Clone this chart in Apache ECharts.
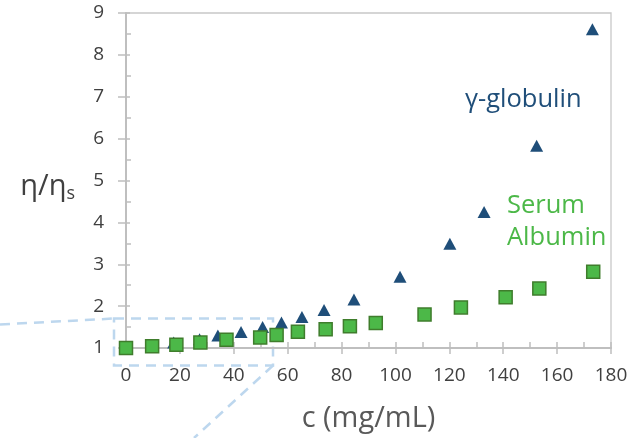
<!DOCTYPE html>
<html>
<head>
<meta charset="utf-8">
<script src="https://cdn.jsdelivr.net/npm/echarts@6/dist/echarts.min.js"></script>
<style>
html,body{margin:0;padding:0;background:#fff;}
#chart{width:642px;height:438px;}
</style>
</head>
<body>
<div id="chart"></div>
<script>
// gamma-globulin data (concentration mg/mL, relative viscosity)
var globulinC = [0, 9.7, 17.7, 27.3, 34.1, 42.7, 50.7, 57.7, 65.3, 73.5, 84.6, 101.7, 120.2, 132.9, 152.4, 173.1];
var globulinV = [1.0, 1.05, 1.13, 1.21, 1.30, 1.38, 1.50, 1.61, 1.74, 1.91, 2.16, 2.70, 3.49, 4.25, 5.83, 8.61];
// serum albumin data
var albuminC = [0, 9.7, 18.7, 27.6, 37.3, 49.8, 55.9, 63.8, 74.1, 83.1, 92.7, 110.8, 124.3, 140.9, 153.4, 173.4];
var albuminV = [1.0, 1.04, 1.08, 1.13, 1.20, 1.25, 1.31, 1.39, 1.45, 1.52, 1.60, 1.80, 1.97, 2.21, 2.42, 2.82];
// axis ticks
var xTicks = [0, 20, 40, 60, 80, 100, 120, 140, 160, 180];
var yTicks = [1, 2, 3, 4, 5, 6, 7, 8, 9];
var xTitle = 'c (mg/mL)';
var globulinName = 'γ-globulin';
var albuminName = ['Serum', 'Albumin'];

function pairs(a, b) { return a.map(function (v, i) { return [v, b[i]]; }); }

var FONT = '"Open Sans", "Noto Sans", sans-serif';
var AX = '#bfbfbf';
var TXT = '#404040';
var BLUE = '#1f4e79';
var GREEN = '#4cb848';
var DASH = '#bdd7ee';

var chart = echarts.init(document.getElementById('chart'), null, {renderer: 'canvas'});
var xMin = xTicks[0], xMax = xTicks[xTicks.length - 1], xInt = xTicks[1] - xTicks[0];
var yMin = yTicks[0], yMax = yTicks[yTicks.length - 1], yInt = yTicks[1] - yTicks[0];

chart.setOption({
  animation: false,
  textStyle: {fontFamily: FONT},
  grid: {left: 126, right: 31, top: 13, bottom: 87, show: true, borderColor: '#c8c8c8', borderWidth: 1.3, backgroundColor: 'transparent'},
  graphic: [
    {type: 'rect', z: 0, shape: {x: 114, y: 318.5, width: 159, height: 47}, style: {fill: 'none', stroke: DASH, lineWidth: 2.5, lineDash: [10, 7]}},
    {type: 'line', z: 0, shape: {x1: 0, y1: 324.5, x2: 114, y2: 318.5}, style: {stroke: DASH, lineWidth: 2.5, lineDash: [10, 7]}},
    {type: 'line', z: 0, shape: {x1: 273, y1: 365.5, x2: 194, y2: 438}, style: {stroke: DASH, lineWidth: 2.5, lineDash: [10, 7]}},
    {type: 'text', z: 5, left: 465, top: 87, style: {text: globulinName, fill: BLUE, font: '25.5px ' + FONT}},
    {type: 'text', z: 5, left: 507, top: 189, style: {text: albuminName.join('\n'), fill: GREEN, font: '25.5px ' + FONT, lineHeight: 32.5}}
  ],
  xAxis: [
    {type: 'value', min: xMin, max: xMax, interval: xInt, position: 'bottom',
     name: xTitle, nameLocation: 'middle', nameGap: 56,
     nameTextStyle: {color: '#595959', fontSize: 29, fontFamily: FONT},
     axisLine: {show: true, lineStyle: {color: AX, width: 2}},
     axisTick: {show: true, inside: false, length: 6, lineStyle: {color: AX, width: 1.5}},
     axisLabel: {color: TXT, fontSize: 19, margin: 18, fontFamily: FONT},
     splitLine: {show: false}},
    {type: 'value', min: xMin, max: xMax, interval: xInt, position: 'bottom',
     axisLine: {show: false},
     axisTick: {show: true, inside: true, length: 6, lineStyle: {color: AX, width: 1.5}},
     minorTick: {show: true, splitNumber: 2, length: 6, lineStyle: {color: AX, width: 1.5}},
     axisLabel: {show: false}, splitLine: {show: false}}
  ],
  yAxis: [
    {type: 'value', min: yMin, max: yMax, interval: yInt, position: 'left',
     name: '{a|η/η}{b|s}', nameLocation: 'middle', nameGap: 51, nameRotate: 0,
     nameTextStyle: {color: '#404040', padding: [12, 0, 0, 0], rich: {a: {fontSize: 29, fontFamily: FONT, color: '#404040'}, b: {fontSize: 18, fontFamily: FONT, color: '#404040', padding: [15, 0, 0, 0]}}},
     axisLine: {show: true, lineStyle: {color: AX, width: 2}},
     axisTick: {show: true, inside: false, length: 8, lineStyle: {color: AX, width: 1.5}},
     axisLabel: {color: TXT, fontSize: 19, margin: 22, fontFamily: FONT},
     splitLine: {show: false}},
    {type: 'value', min: yMin, max: yMax, interval: yInt, position: 'left',
     axisLine: {show: false},
     axisTick: {show: true, inside: true, length: 4, lineStyle: {color: AX, width: 1.5}},
     minorTick: {show: true, splitNumber: 2, length: 5, lineStyle: {color: AX, width: 1.5}},
     axisLabel: {show: false}, splitLine: {show: false}}
  ],
  series: [
    {type: 'scatter', name: globulinName, xAxisIndex: 0, yAxisIndex: 0, z: 3,
     symbol: 'triangle', symbolSize: [13, 12],
     itemStyle: {color: BLUE, opacity: 1},
     data: pairs(globulinC, globulinV)},
    {type: 'scatter', name: albuminName.join(' '), xAxisIndex: 0, yAxisIndex: 0, z: 4,
     symbol: 'rect', symbolSize: 13,
     itemStyle: {color: GREEN, borderColor: '#3f7d2c', borderWidth: 1.5, opacity: 1},
     data: pairs(albuminC, albuminV)}
  ]
});
</script>
</body>
</html>
